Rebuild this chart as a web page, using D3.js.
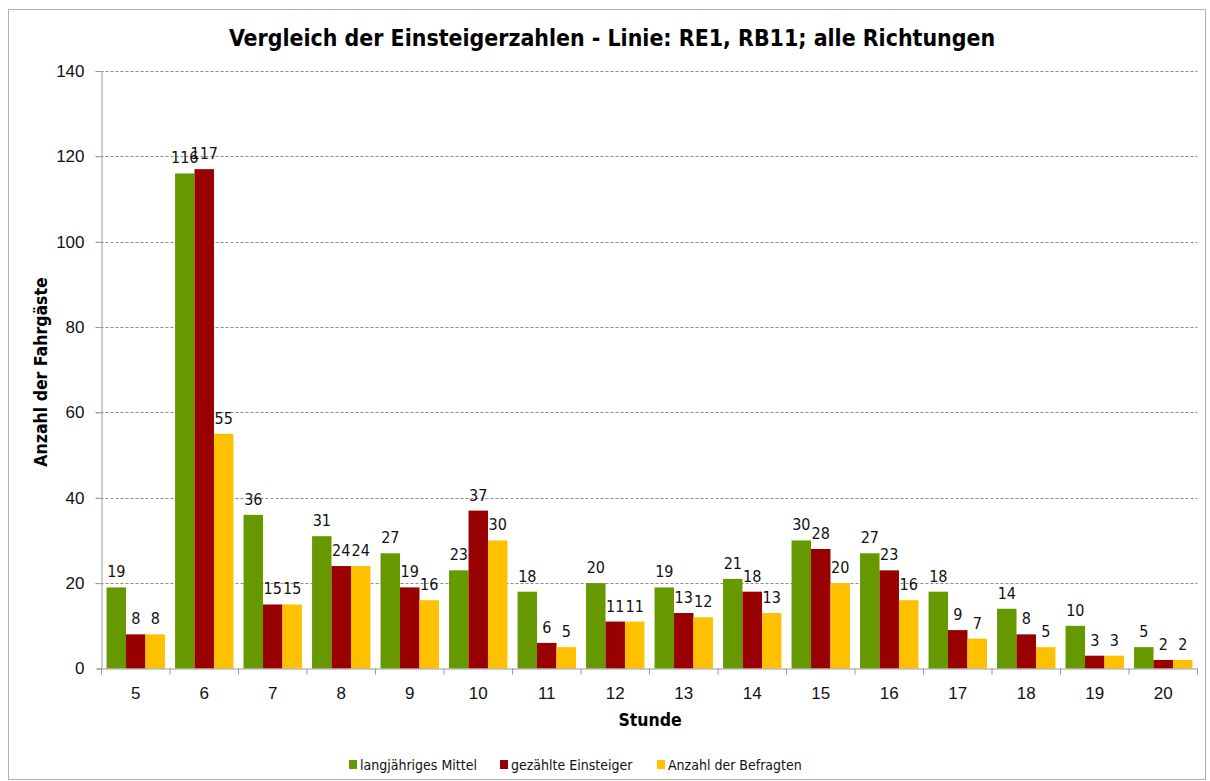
<!DOCTYPE html>
<html>
<head>
<meta charset="utf-8">
<script src="https://cdn.jsdelivr.net/npm/d3@7"></script>
<style>
  body { margin: 0; background: #fff; }
  svg { display: block; font-family: "DejaVu Sans Condensed", "DejaVu Sans", sans-serif; }
</style>
</head>
<body>
<svg id="chart" width="1210" height="781"></svg>
<script>
// data
const hours = ['5', '6', '7', '8', '9', '10', '11', '12', '13', '14', '15', '16', '17', '18', '19', '20'];
const langjaehrig = [19, 116, 36, 31, 27, 23, 18, 20, 19, 21, 30, 27, 18, 14, 10, 5];
const gezaehlt = [8, 117, 15, 24, 19, 37, 6, 11, 13, 18, 28, 23, 9, 8, 3, 2];
const befragt = [8, 55, 15, 24, 16, 30, 5, 11, 12, 13, 20, 16, 7, 5, 3, 2];
const seriesNames = ['langjähriges Mittel', 'gezählte Einsteiger', 'Anzahl der Befragten'];
const yTicks = [0, 20, 40, 60, 80, 100, 120, 140];

const colors = ['#669900', '#990000', '#FFC000'];
const series = [langjaehrig, gezaehlt, befragt];

const svg = d3.select('#chart');
const plot = { left: 101.5, right: 1197.5, top: 71, bottom: 668.5 };

// outer frame
svg.append('rect')
  .attr('x', 8.5).attr('y', 9.5)
  .attr('width', 1197).attr('height', 770)
  .attr('fill', '#fff').attr('stroke', '#b3b3b3');

const x = d3.scaleBand().domain(hours).range([plot.left, plot.right]).paddingInner(0).paddingOuter(0);
const inner = d3.scaleBand().domain([0, 1, 2]).range([0, x.bandwidth()]).paddingOuter(0.26).paddingInner(0);
const y = d3.scaleLinear().domain([0, 140]).range([plot.bottom, plot.top]);

// gridlines
svg.append('g')
  .selectAll('line')
  .data(yTicks.filter(d => d > 0))
  .enter()
  .append('line')
  .attr('x1', plot.left - 6).attr('x2', plot.right)
  .attr('y1', d => Math.round(y(d)) + 0.5).attr('y2', d => Math.round(y(d)) + 0.5)
  .attr('stroke', '#8c8c8c')
  .attr('stroke-dasharray', '3,2');

// bars
const groups = svg.append('g')
  .selectAll('g')
  .data(hours)
  .enter()
  .append('g')
  .attr('transform', d => `translate(${x(d)},0)`);

groups.each(function (h, i) {
  const g = d3.select(this);
  series.forEach((s, k) => {
    g.append('rect')
      .attr('x', inner(k))
      .attr('width', inner.bandwidth())
      .attr('y', y(s[i]))
      .attr('height', y(0) - y(s[i]))
      .attr('fill', colors[k]);
    g.append('text')
      .attr('x', inner(k) + inner.bandwidth() / 2)
      .attr('y', y(s[i]) - 10)
      .attr('text-anchor', 'middle')
      .attr('font-size', 16)
      .attr('fill', '#111')
      .text(s[i]);
  });
});

// y axis
const yAxis = svg.append('g')
  .attr('transform', `translate(${plot.left},0)`)
  .call(d3.axisLeft(y).tickValues(yTicks).tickSize(5).tickPadding(12));
yAxis.select('.domain').attr('stroke', '#999');
yAxis.selectAll('.tick line').attr('stroke', '#999');
yAxis.selectAll('.tick text').attr('font-size', 17).attr('fill', '#111').attr('font-family', null);

// x axis
const xAxis = svg.append('g')
  .attr('transform', `translate(0,${plot.bottom})`)
  .call(d3.axisBottom(x).tickSize(0).tickPadding(18));
xAxis.select('.domain').attr('stroke', '#999');
xAxis.selectAll('.tick text').attr('font-size', 17).attr('fill', '#111').attr('font-family', null);
xAxis.selectAll('.sep')
  .data(d3.range(hours.length + 1))
  .enter()
  .append('line')
  .attr('x1', i => i * x.step() + plot.left)
  .attr('x2', i => i * x.step() + plot.left)
  .attr('y1', 0).attr('y2', 6)
  .attr('stroke', '#999');

// title and axis titles
svg.append('text')
  .attr('x', 612).attr('y', 46)
  .attr('text-anchor', 'middle')
  .attr('font-size', 22.9).attr('font-weight', 'bold')
  .text('Vergleich der Einsteigerzahlen - Linie: RE1, RB11; alle Richtungen');

svg.append('text')
  .attr('transform', `translate(47,372) rotate(-90)`)
  .attr('text-anchor', 'middle')
  .attr('font-size', 17.5).attr('font-weight', 'bold')
  .text('Anzahl der Fahrgäste');

svg.append('text')
  .attr('x', 650).attr('y', 726)
  .attr('text-anchor', 'middle')
  .attr('font-size', 17.5).attr('font-weight', 'bold')
  .text('Stunde');

// legend
const legendX = [349, 500, 657];
const legend = svg.append('g')
  .selectAll('g')
  .data(seriesNames)
  .enter()
  .append('g')
  .attr('transform', (d, i) => `translate(${legendX[i]},760)`);
legend.append('rect')
  .attr('x', 0).attr('y', 0)
  .attr('width', 8).attr('height', 9)
  .attr('fill', (d, i) => colors[i]);
legend.append('text')
  .attr('x', 11).attr('y', 10)
  .attr('font-size', 14)
  .attr('fill', '#111')
  .text(d => d);
</script>
</body>
</html>
